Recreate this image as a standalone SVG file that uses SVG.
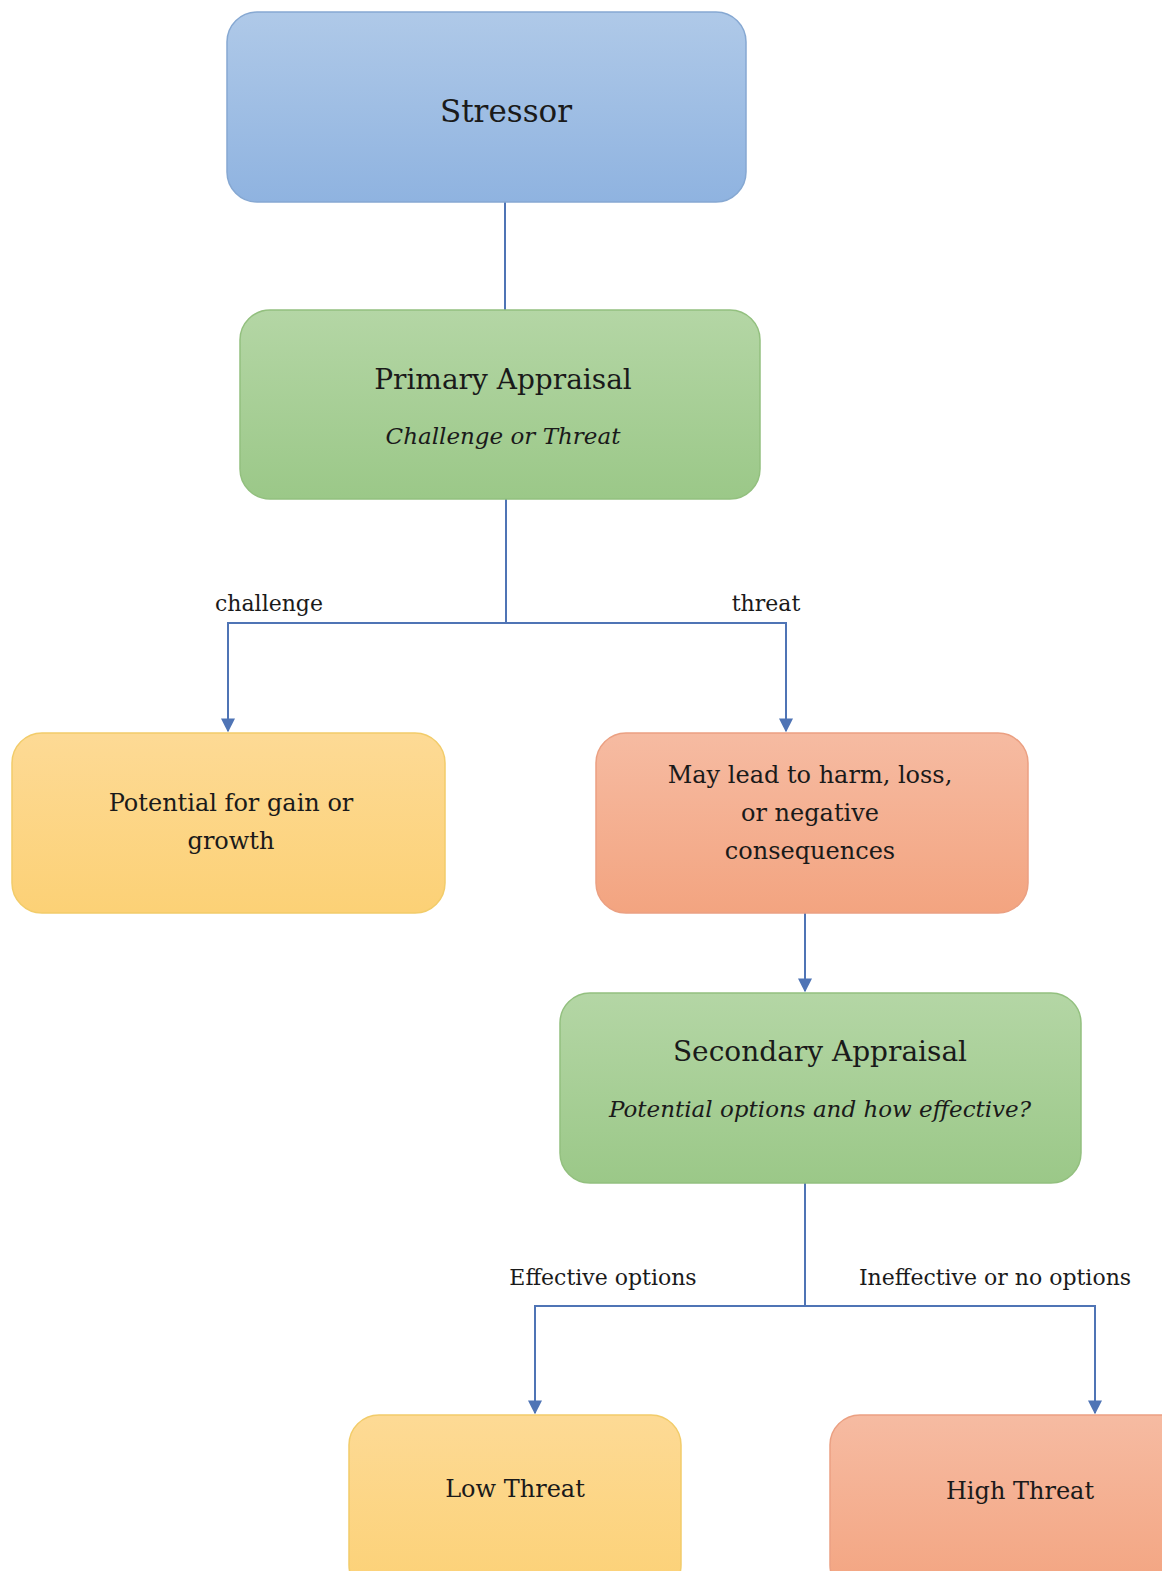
<svg xmlns="http://www.w3.org/2000/svg" width="1162" height="1571" viewBox="0 0 1162 1571">
<style>
text{font-family:"DejaVu Serif","Liberation Serif",serif;fill:#1a1a1a;text-anchor:middle}
.t{font-size:24px}
.h{font-size:28px}
.i{font-size:23px;font-style:italic}
.l{font-size:22px}
.conn{fill:none;stroke:#4f74b5;stroke-width:2}
</style>
<defs>
<linearGradient id="gb" x1="0" y1="0" x2="0" y2="1"><stop offset="0" stop-color="#afc9e8"/><stop offset="1" stop-color="#8fb3e0"/></linearGradient>
<linearGradient id="gg" x1="0" y1="0" x2="0" y2="1"><stop offset="0" stop-color="#b4d6a5"/><stop offset="1" stop-color="#9bc888"/></linearGradient>
<linearGradient id="gy" x1="0" y1="0" x2="0" y2="1"><stop offset="0" stop-color="#fdda95"/><stop offset="1" stop-color="#fcd176"/></linearGradient>
<linearGradient id="gr" x1="0" y1="0" x2="0" y2="1"><stop offset="0" stop-color="#f6bba2"/><stop offset="1" stop-color="#f3a480"/></linearGradient>
<marker id="ar" viewBox="0 0 10 10" refX="9" refY="5" markerWidth="7" markerHeight="7" orient="auto" markerUnits="strokeWidth"><path d="M0,0 L10,5 L0,10 z" fill="#4f74b5"/></marker>
</defs>
<rect width="1162" height="1571" fill="#ffffff"/>
<g id="connectors">
<path class="conn" d="M505,202 V310"/>
<path class="conn" d="M506,499 V623 H228 V731" marker-end="url(#ar)"/>
<path class="conn" d="M506,623 H786 V731" marker-end="url(#ar)"/>
<path class="conn" d="M805,913 V991" marker-end="url(#ar)"/>
<path class="conn" d="M805,1183 V1306 H535 V1413" marker-end="url(#ar)"/>
<path class="conn" d="M805,1306 H1095 V1413" marker-end="url(#ar)"/>
<text class="l" x="269" y="611">challenge</text>
<text class="l" x="766" y="611">threat</text>
<text class="l" x="603" y="1285">Effective options</text>
<text class="l" x="995" y="1285">Ineffective or no options</text>
</g>
<g id="stressor">
<rect x="227" y="12" width="519" height="190" rx="30" fill="url(#gb)" stroke="#86a8d2" stroke-width="1.5"/>
<text class="h" x="506" y="122" style="font-size:31px">Stressor</text>
</g>
<g id="primary">
<rect x="240" y="310" width="520" height="189" rx="30" fill="url(#gg)" stroke="#93c07f" stroke-width="1.5"/>
<text class="h" x="503" y="389">Primary Appraisal</text>
<text class="i" x="503" y="444">Challenge or Threat</text>
</g>
<g id="gain">
<rect x="12" y="733" width="433" height="180" rx="30" fill="url(#gy)" stroke="#f2cc6a" stroke-width="1.5"/>
<text class="t" x="231" y="811">Potential for gain or</text>
<text class="t" x="231" y="849">growth</text>
</g>
<g id="harm">
<rect x="596" y="733" width="432" height="180" rx="30" fill="url(#gr)" stroke="#eba082" stroke-width="1.5"/>
<text class="t" x="810" y="783">May lead to harm, loss,</text>
<text class="t" x="810" y="821">or negative</text>
<text class="t" x="810" y="859">consequences</text>
</g>
<g id="secondary">
<rect x="560" y="993" width="521" height="190" rx="30" fill="url(#gg)" stroke="#93c07f" stroke-width="1.5"/>
<text class="h" x="820" y="1061">Secondary Appraisal</text>
<text class="i" x="820" y="1117">Potential options and how effective?</text>
</g>
<g id="low">
<rect x="349" y="1415" width="332" height="180" rx="30" fill="url(#gy)" stroke="#f2cc6a" stroke-width="1.5"/>
<text class="t" x="515" y="1497">Low Threat</text>
</g>
<g id="high">
<rect x="830" y="1415" width="360" height="180" rx="30" fill="url(#gr)" stroke="#eba082" stroke-width="1.5"/>
<text class="t" x="1020" y="1499">High Threat</text>
</g>
</svg>
